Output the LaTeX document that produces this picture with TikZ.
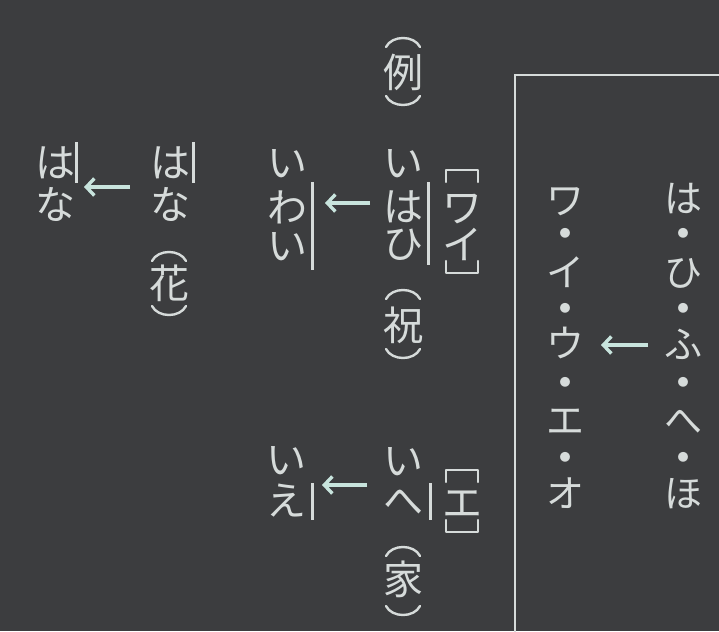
\documentclass[tikz,border=0pt]{standalone}
\usepackage{fontspec}
\newfontfamily\jp{Noto Sans CJK JP}
\usetikzlibrary{arrows.meta}
\definecolor{board}{HTML}{3C3D3F}
\definecolor{chalk}{HTML}{D6DBDA}
\definecolor{mint}{HTML}{C8E4DD}
\tikzset{
  ch/.style={text=chalk, inner sep=0pt, text height=30pt, text depth=0pt, font=\jp\fontsize{40}{40}\selectfont},
  sm/.style={text=chalk, inner sep=0pt, text height=28.5pt, text depth=0pt, font=\jp\fontsize{38}{38}\selectfont},
  dot/.style={text=chalk, inner sep=0pt, font=\jp\fontsize{11}{11}\selectfont},
  pline/.style={draw=chalk, line width=2.4pt, line cap=round, line join=round},
  bar/.style={draw=chalk, line width=3pt},
  arr/.style={draw=mint, line width=3.6pt, -{Straight Barb[length=8pt,width=17pt,line width=3.4pt]}},
  ptop/.pic={\draw[pline] (-17,5) .. controls (-11,-7) and (11,-7) .. (17,5);},
  pbot/.pic={\draw[pline] (-17,-5) .. controls (-11,7) and (11,7) .. (17,-5);},
  btop/.pic={\draw[pline] (-16,6) -- (-16,-6) -- (16,-6) -- (16,6);},
  bbot/.pic={\draw[pline] (-16,-6) -- (-16,6) -- (16,6) -- (16,-6);},
}
\begin{document}
\begin{tikzpicture}[x=1pt,y=-1pt]
\fill[board] (0,0) rectangle (719,631);
\useasboundingbox (0,0) rectangle (719,631);
% example label
\pic at (403,42) {ptop};
\node[ch] (rei) at (403,73) {例};
\pic at (403,101) {pbot};
% いはひ
\node[ch] (A1) at (403,162) {い};
\node[ch] (A2) at (403,206) {は};
\node[ch] (A3) at (403,243) {ひ};
\draw[bar] (428,182) -- (428,265);
\pic at (462,176) {btop};
\node[ch] (Ab2) at (462,207) {ワ};
\node[ch] (Ab3) at (462,244) {イ};
\pic at (462,267) {bbot};
\pic at (403,294) {ptop};
\node[ch] (Ak) at (403,325) {祝};
\pic at (403,354) {pbot};
% いわい
\node[ch] (B1) at (287,162) {い};
\node[ch] (B2) at (287,207) {わ};
\node[ch] (B3) at (287,245) {い};
\draw[bar] (312,182) -- (312,270);
\coordinate (aA) at (370,203);
\coordinate (aB) at (325,203);
\draw[arr] (aA) -- (aB);
% はな (right)
\node[ch] (C1) at (170,162) {は};
\node[ch] (C2) at (170,204) {な};
\draw[bar] (193,142) -- (193,183);
\pic at (169,256) {ptop};
\node[ch] (Ck) at (169,283) {花};
\pic at (169,311) {pbot};
% はな (left)
\node[ch] (D1) at (55,162) {は};
\node[ch] (D2) at (55,204) {な};
\draw[bar] (76,142) -- (76,183);
\coordinate (aC) at (130,187);
\coordinate (aD) at (84,187);
\draw[arr] (aC) -- (aD);
% いへ
\node[ch] (E1) at (403,460) {い};
\node[ch] (E2) at (403,500) {へ};
\draw[bar] (430,483) -- (430,520);
\pic at (462,476) {btop};
\node[ch] (Eb2) at (462,502) {エ};
\pic at (462,526) {bbot};
\pic at (403,551) {ptop};
\node[ch] (Ek) at (403,579) {家};
\pic at (403,611) {pbot};
% いえ
\node[ch] (F1) at (286,459) {い};
\node[ch] (F2) at (286,500) {え};
\draw[bar] (312,483) -- (312,520);
\coordinate (aE) at (367,485);
\coordinate (aF) at (322,485);
\draw[arr] (aE) -- (aF);
% box
\draw[draw=chalk, line width=2.4pt] (740,75) -- (515,75) -- (515,650);
% right columns
\foreach \c/\y [count=\i] in {は/198,ひ/272,ふ/344,へ/420,ほ/493}{
  \node[sm] (H\i) at (683,\y) {\c};
}
\foreach \c/\y [count=\i] in {ワ/200,イ/272,ウ/343,エ/420,オ/493}{
  \node[sm] (W\i) at (565,\y) {\c};
}
\foreach \y [count=\i] in {233,308,382,457}{
  \node[dot] (hd\i) at (683,\y) {●};
  \node[dot] (wd\i) at (565,\y) {●};
}
\coordinate (aH) at (648,345);
\coordinate (aW) at (601,345);
\draw[arr] (aH) -- (aW);
\end{tikzpicture}
\end{document}
